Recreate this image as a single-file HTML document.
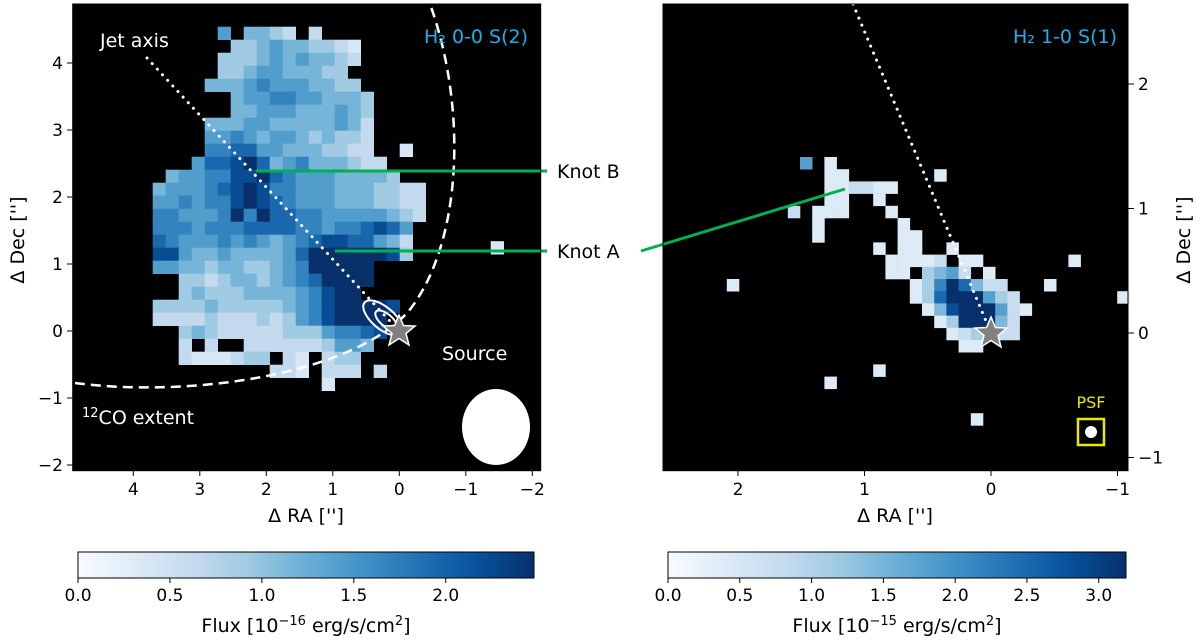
<!DOCTYPE html>
<html><head><meta charset="utf-8"><style>
html,body{margin:0;padding:0;background:#fff;}
svg{display:block;font-family:"DejaVu Sans","Liberation Sans",sans-serif;}
</style></head><body>
<svg id="fig" width="1200" height="644" viewBox="0 0 1200 644" xmlns="http://www.w3.org/2000/svg">
<defs>
<linearGradient id="blues" x1="0" x2="1" y1="0" y2="0">
<stop offset="0" stop-color="#f7fbff"/><stop offset="0.125" stop-color="#deebf7"/><stop offset="0.25" stop-color="#c6dbef"/><stop offset="0.375" stop-color="#9ecae1"/><stop offset="0.5" stop-color="#6baed6"/><stop offset="0.625" stop-color="#4292c6"/><stop offset="0.75" stop-color="#2171b5"/><stop offset="0.875" stop-color="#08519c"/><stop offset="1" stop-color="#08306b"/>
</linearGradient>
</defs>
<rect x="72.7" y="4" width="468" height="466.7" fill="#000"/>
<rect x="663" y="4" width="465" height="466.7" fill="#000"/>
<g id="leftMap"></g>
<g id="rightMap"></g>
<g id="overlay">
<path d="M75,383 C190,398 350,375 408,312 C462,245 468,110 430,4" fill="none" stroke="#fff" stroke-width="2.5" stroke-dasharray="10,6"/>
<line x1="147" y1="58" x2="399" y2="331" stroke="#fff" stroke-width="3" stroke-dasharray="0.1,7.5" stroke-linecap="round"/>
<ellipse cx="383" cy="318" rx="24" ry="11" transform="rotate(40 383 318)" fill="none" stroke="#fff" stroke-width="2"/>
<ellipse cx="386" cy="320" rx="13" ry="6" transform="rotate(40 386 320)" fill="none" stroke="#fff" stroke-width="2"/>
<polygon points="399,315 403.5,325.5 415,326 406,333.5 409,345 399,338.5 389,345 392,333.5 383,326 394.5,325.5" fill="#808080" stroke="#fff" stroke-width="1.5"/>
<text x="442" y="360" fill="#fff" font-size="19">Source</text>
<text x="100" y="47" fill="#fff" font-size="19">Jet axis</text>
<text x="528" y="43" fill="#1ab0ec" font-size="19" text-anchor="end">H₂ 0-0 S(2)</text>
<text x="82" y="424" fill="#fff" font-size="19"><tspan font-size="13" dy="-7">12</tspan><tspan dy="7">CO extent</tspan></text>
<ellipse cx="496" cy="427" rx="34" ry="38" fill="#fff"/>
<line x1="853" y1="4" x2="991" y2="333" stroke="#fff" stroke-width="3" stroke-dasharray="0.1,7.5" stroke-linecap="round"/>
<polygon points="991,317 995.5,327.5 1007,328 998,335.5 1001,347 991,340.5 981,347 984,335.5 975,328 986.5,327.5" fill="#808080" stroke="#fff" stroke-width="1.5"/>
<text x="1117" y="43" fill="#1ab0ec" font-size="19" text-anchor="end">H₂ 1-0 S(1)</text>
<rect x="1078" y="419" width="26" height="26" fill="none" stroke="#e8e800" stroke-width="2.5"/>
<circle cx="1091" cy="432" r="6" fill="#fff"/>
<text x="1091" y="408" fill="#e8e800" font-size="16" text-anchor="middle">PSF</text>
<line x1="256" y1="171" x2="547" y2="171" stroke="#00b050" stroke-width="3"/>
<line x1="335" y1="251" x2="547" y2="251" stroke="#00b050" stroke-width="3"/>
<line x1="641" y1="251" x2="845" y2="189" stroke="#00b050" stroke-width="3"/>
<text x="557" y="178" fill="#000" font-size="19">Knot B</text>
<text x="557" y="258" fill="#000" font-size="19">Knot A</text>
</g>
<rect x="72.7" y="4" width="468" height="466.7" fill="none" stroke="#000" stroke-width="1"/>
<rect x="663" y="4" width="465" height="466.7" fill="none" stroke="#000" stroke-width="1"/>
<g id="axes" font-size="17" fill="#000"></g>
<text x="306" y="522" font-size="19" text-anchor="middle">Δ RA ['']</text>
<text x="895" y="522" font-size="19" text-anchor="middle">Δ RA ['']</text>
<text transform="translate(24,240) rotate(-90)" font-size="19" text-anchor="middle">Δ Dec ['']</text>
<text transform="translate(1190,240) rotate(-90)" font-size="19" text-anchor="middle">Δ Dec ['']</text>
<rect x="78" y="552" width="456" height="26" fill="url(#blues)" stroke="#000" stroke-width="1"/>
<rect x="668" y="552" width="458" height="26" fill="url(#blues)" stroke="#000" stroke-width="1"/>
<text x="306" y="632" font-size="19" text-anchor="middle">Flux [10<tspan font-size="13" dy="-7">−16</tspan><tspan dy="7"> erg/s/cm</tspan><tspan font-size="13" dy="-7">2</tspan><tspan dy="7">]</tspan></text>
<text x="897" y="632" font-size="19" text-anchor="middle">Flux [10<tspan font-size="13" dy="-7">−15</tspan><tspan dy="7"> erg/s/cm</tspan><tspan font-size="13" dy="-7">2</tspan><tspan dy="7">]</tspan></text>
</svg>
<script>
// ---- data ----
const leftGrid = [
"000005044320200000000",
"000000334544332100000",
"000003334545443200000",
"000003345544433000000",
"000044456555443300000",
"000000455665544430000",
"000000445554445430000",
"000044455444445420000",
"000055654554343320000",
"000066775544433220010",
"000577897456444322000",
"045566889765554444300",
"455567898665554443322",
"556566898765554443322",
"665556969776655555432",
"666566677776656678750",
"765556565456788775420",
"885445444457999999830",
"554434433456999990000",
"003323443456799990000",
"003433344445689900000",
"333343333345689999800",
"222232223235689999000",
"003432222233356678000",
"002020022222235540000",
"002111233021023300000",
"000000000221022202000",
"000000000000010000000"];
const leftExtraCol = [26];
const leftExtraRow = [16.5];
const leftExtraVal = [1];
const rightCols = [2, 2,3, 2,3,4,5,6,7, 2,3,6, 1,2,3,7, 1,8, 1,8,9, 8,9, 7,8,9,10,11,13,14, 7,8,10,11,12,13,15, 9,10,11,12,13,14,15,16, 9,10,11,12,13,14,15,16,17, 10,11,12,13,14,15,16,17,18, 11,12,13,14,15,16,17, 12,13,14,15,16,17, 13,14, 0,11,-1,6,12,22,-6,20,26,6,2,14];
const rightRows = [0, 1,1, 2,2,2,2,2,2, 3,3,3, 4,4,4,4, 5,5, 6,6,6, 7,7, 8,8,8,8,8,8,8, 9,9,9,9,9,9,9, 10,10,10,10,10,10,10,10, 11,11,11,11,11,11,11,11,11, 12,12,12,12,12,12,12,12,12, 13,13,13,13,13,13,13, 14,14,14,14,14,14, 15,15, 0,1,4,7,7,8,10,10,11,17,18,21];
const rightVals = [1, 1,1, 1,1,2,2,1,1, 1,1,1, 1,1,1,1, 1,1, 1,1,1, 1,1, 1,1,1,1,2,1,1, 1,1,3,4,5,2,1, 1,3,6,9,7,4,2,2, 1,3,7,9,9,9,5,3,2, 1,4,8,9,9,9,5,2,1, 1,3,9,9,9,4,2, 1,2,3,8,2,2, 1,1, 5,1,2,1,1,1,1,1,1,1,1,1];
const leftXTicks = [4,3,2,1,0,-1,-2];
const leftYTicks = [4,3,2,1,0,-1,-2];
const rightXTicks = [2,1,0,-1];
const rightYTicks = [2,1,0,-1];
const leftCbTicks = ["0.0","0.5","1.0","1.5","2.0"];
const rightCbTicks = ["0.0","0.5","1.0","1.5","2.0","2.5","3.0"];
const leftCbMax = 2.48, rightCbMax = 3.19;

// ---- scales ----
const lx = v => 399.3 - 66.5*v;
const ly = v => 331 - 67*v;
const rx = v => 991 - 126.5*v;
const ry = v => 333 - 124.5*v;
const stops = [[247,251,255],[222,235,247],[198,219,239],[158,202,225],[107,174,214],[66,146,198],[33,113,181],[8,81,156],[8,48,107]];
function blues(t){
  t=Math.max(0,Math.min(1,t))*8; const i=Math.min(7,Math.floor(t)), f=t-i;
  const c=stops[i].map((a,k)=>Math.round(a+(stops[i+1][k]-a)*f));
  return `rgb(${c[0]},${c[1]},${c[2]})`;
}
const NS="http://www.w3.org/2000/svg";
function mk(tag, attrs, parent){const e=document.createElementNS(NS,tag);for(const k in attrs)e.setAttribute(k,attrs[k]);parent.appendChild(e);return e;}

// left map
const LM=document.getElementById('leftMap'), LX0=152.7, LY0=26.7, LC=13;
function leftCell(c,r,d){
  const e=mk('rect',{x:LX0+c*LC,y:LY0+r*LC,width:LC+0.3,height:LC+0.3,fill:blues(0.05+d/9*0.95)},LM);
  
  
}
leftGrid.forEach((row,r)=>{for(let c=0;c<row.length;c++){const d=+row[c];if(d>0)leftCell(c,r,d);}});
leftExtraCol.forEach((c,i)=>leftCell(c,leftExtraRow[i],leftExtraVal[i]));
// right map
const RM=document.getElementById('rightMap'), RX0=800, RY0=157, RC=12.2;
rightCols.forEach((c,i)=>{
  const e=mk('rect',{x:RX0+c*RC,y:RY0+rightRows[i]*RC,width:RC+0.3,height:RC+0.3,fill:blues(0.02+rightVals[i]/9*0.98)},RM);
  
  
});

// axes
const AX=document.getElementById('axes');
function tick(x1,y1,x2,y2){const e=mk('line',{x1,y1,x2,y2,stroke:'#000','stroke-width':1},AX);
  
  }
function lab(x,y,s,anchor,name){const e=mk('text',{x,y,'text-anchor':anchor},AX);e.textContent=s;
  
  }
const fmt=v=>v<0?'−'+(-v):String(v);
leftXTicks.forEach(v=>{const x=lx(v);tick(x,470.7,x,476);lab(x,495,fmt(v),'middle','left-x-tick-label');});
leftYTicks.forEach(v=>{const y=ly(v);tick(67,y,72.7,y);lab(63,y+6,fmt(v),'end','left-y-tick-label');});
rightXTicks.forEach(v=>{const x=rx(v);tick(x,470.7,x,476);lab(x,495,fmt(v),'middle','right-x-tick-label');});
rightYTicks.forEach(v=>{const y=ry(v);tick(1128,y,1134,y);lab(1138,y+6,fmt(v),'start','right-y-tick-label');});
leftCbTicks.forEach(s=>{const x=78+456*(+s)/leftCbMax;tick(x,578,x,583);lab(x,601,s,'middle','left-colorbar-tick');});
rightCbTicks.forEach(s=>{const x=668+458*(+s)/rightCbMax;tick(x,578,x,583);lab(x,601,s,'middle','right-colorbar-tick');});
</script>
</body></html>
